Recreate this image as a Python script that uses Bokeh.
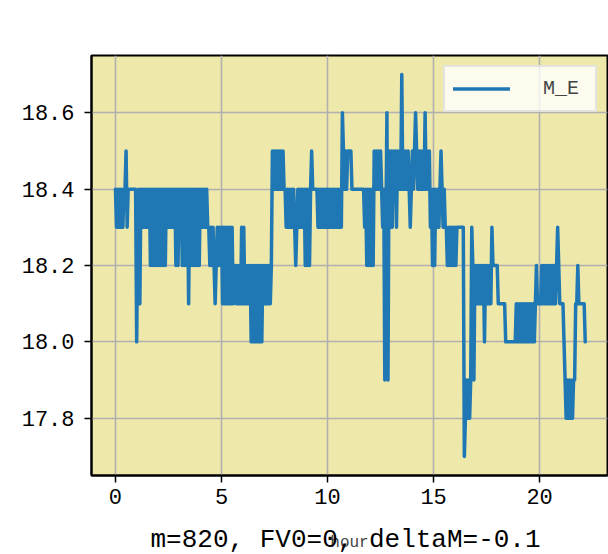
from bokeh.plotting import figure
from bokeh.models import (Range1d, FixedTicker, PrintfTickFormatter, Legend,
                          LegendItem, Title, ColumnDataSource)
from bokeh.embed import file_html
from bokeh.resources import INLINE

# ---- data (M_E readings, sampled every 0.05 hour) ----
step_hours = 0.05
me_part1 = [
    18.4, 18.3, 18.4, 18.3, 18.4, 18.3, 18.4, 18.3, 18.4, 18.4,
    18.5, 18.3, 18.4, 18.4, 18.4, 18.4, 18.4, 18.4, 18.4, 18.4,
    18.0, 18.3, 18.4, 18.1, 18.4, 18.3, 18.4, 18.3, 18.4, 18.3,
    18.4, 18.3, 18.4, 18.2, 18.4, 18.2, 18.4, 18.2, 18.4, 18.2,
    18.4, 18.2, 18.4, 18.2, 18.4, 18.2, 18.4, 18.2, 18.4, 18.3,
    18.4, 18.3, 18.4, 18.3, 18.4, 18.3, 18.4, 18.2, 18.4, 18.2,
    18.4, 18.3, 18.4, 18.2, 18.4, 18.2, 18.4, 18.2, 18.4, 18.1,
    18.4, 18.2, 18.4, 18.2, 18.4, 18.2, 18.4, 18.2, 18.4, 18.2,
    18.4, 18.3, 18.4, 18.3, 18.4, 18.3, 18.4, 18.3, 18.3, 18.2,
    18.3, 18.2, 18.3, 18.2, 18.1, 18.2, 18.3, 18.2, 18.3, 18.2,
]
me_part2 = [
    18.3, 18.1, 18.3, 18.1, 18.3, 18.1, 18.3, 18.1, 18.3, 18.1,
    18.3, 18.1, 18.2, 18.2, 18.1, 18.2, 18.1, 18.2, 18.1, 18.3,
    18.1, 18.3, 18.1, 18.2, 18.1, 18.2, 18.1, 18.2, 18.0, 18.2,
    18.0, 18.2, 18.0, 18.2, 18.0, 18.2, 18.0, 18.2, 18.0, 18.2,
    18.1, 18.2, 18.1, 18.2, 18.1, 18.2, 18.1, 18.2, 18.5, 18.4,
    18.5, 18.4, 18.5, 18.4, 18.5, 18.4, 18.5, 18.4, 18.5, 18.4,
    18.4, 18.3, 18.4, 18.3, 18.4, 18.3, 18.4, 18.3, 18.4, 18.3,
    18.2, 18.3, 18.4, 18.3, 18.4, 18.3, 18.4, 18.3, 18.4, 18.2,
    18.4, 18.2, 18.4, 18.2, 18.4, 18.5, 18.4, 18.4, 18.4, 18.4,
    18.4, 18.3, 18.4, 18.3, 18.4, 18.3, 18.4, 18.3, 18.4, 18.3,
]
me_part3 = [
    18.4, 18.3, 18.4, 18.3, 18.4, 18.3, 18.4, 18.3, 18.4, 18.3,
    18.4, 18.3, 18.4, 18.3, 18.6, 18.5, 18.4, 18.5, 18.4, 18.5,
    18.5, 18.5, 18.5, 18.4, 18.4, 18.4, 18.4, 18.4, 18.4, 18.4,
    18.4, 18.4, 18.4, 18.4, 18.4, 18.3, 18.4, 18.2, 18.4, 18.2,
    18.4, 18.2, 18.4, 18.2, 18.5, 18.4, 18.5, 18.4, 18.5, 18.4,
    18.5, 18.4, 18.3, 18.4, 17.9, 18.3, 18.6, 17.9, 18.5, 18.3,
    18.5, 18.3, 18.5, 18.4, 18.5, 18.3, 18.5, 18.4, 18.5, 18.4,
    18.7, 18.4, 18.5, 18.4, 18.5, 18.4, 18.5, 18.4, 18.3, 18.4,
    18.5, 18.4, 18.5, 18.6, 18.5, 18.4, 18.5, 18.4, 18.5, 18.4,
    18.5, 18.4, 18.6, 18.4, 18.5, 18.4, 18.5, 18.3, 18.4, 18.2,
]
me_part4 = [
    18.4, 18.2, 18.4, 18.3, 18.4, 18.3, 18.4, 18.5, 18.4, 18.3,
    18.4, 18.3, 18.3, 18.2, 18.3, 18.2, 18.3, 18.2, 18.3, 18.2,
    18.3, 18.2, 18.3, 18.3, 18.3, 18.3, 18.3, 18.3, 18.3, 17.7,
    17.8, 17.9, 17.8, 17.9, 17.8, 17.9, 18.3, 18.2, 17.9, 18.2,
    18.1, 18.2, 18.1, 18.2, 18.1, 18.2, 18.1, 18.2, 18.0, 18.2,
    18.1, 18.2, 18.1, 18.2, 18.1, 18.3, 18.2, 18.2, 18.2, 18.2,
    18.2, 18.1, 18.1, 18.1, 18.1, 18.1, 18.1, 18.1, 18.0, 18.0,
    18.0, 18.0, 18.0, 18.0, 18.0, 18.0, 18.0, 18.0, 18.1, 18.0,
    18.1, 18.0, 18.1, 18.0, 18.1, 18.0, 18.1, 18.0, 18.1, 18.0,
    18.1, 18.0, 18.1, 18.0, 18.1, 18.0, 18.1, 18.2, 18.1, 18.1,
]
me_part5 = [
    18.1, 18.1, 18.2, 18.1, 18.2, 18.1, 18.2, 18.1, 18.2, 18.1,
    18.2, 18.1, 18.2, 18.1, 18.2, 18.1, 18.2, 18.3, 18.2, 18.1,
    18.1, 18.1, 18.1, 18.0, 17.9, 17.8, 17.9, 17.8, 17.9, 17.8,
    17.9, 17.8, 17.9, 17.9, 18.1, 18.1, 18.2, 18.1, 18.1, 18.1,
    18.1, 18.1, 18.1, 18.0,
]
me_values = me_part1 + me_part2 + me_part3 + me_part4 + me_part5
hours = [round(i * step_hours, 2) for i in range(len(me_values))]

x_ticks = [0, 5, 10, 15, 20]
y_ticks = [17.8, 18.0, 18.2, 18.4, 18.6]
series_name = "M_E"
x_label = "hour"
caption = "m=820, FV0=0, deltaM=-0.1"

FONT = "Liberation Mono"

p = figure(width=608, height=554, output_backend="svg", toolbar_location=None,
           x_range=Range1d(-1.13, 23.2), y_range=Range1d(17.65, 18.75),
           min_border_left=91, min_border_right=1, min_border_top=55,
           min_border_bottom=79)
p.background_fill_color = "#EEE8AA"
p.border_fill_color = "white"
p.outline_line_color = "black"
p.outline_line_width = 2

src = ColumnDataSource(dict(hour=hours, me=me_values))
r = p.line("hour", "me", source=src, line_color="#1f77b4", line_width=3.5,
           line_join="round", line_cap="round")

p.xaxis.ticker = FixedTicker(ticks=x_ticks)
p.yaxis.ticker = FixedTicker(ticks=y_ticks)
p.yaxis.formatter = PrintfTickFormatter(format="%.1f")
p.axis.minor_tick_line_color = None
p.axis.major_tick_in = 0
p.axis.major_tick_out = 7
p.axis.major_tick_line_width = 1.5
p.axis.major_tick_line_color = "black"
p.axis.axis_line_color = "black"
p.axis.axis_line_width = 2
p.axis.major_label_text_font = FONT
p.axis.major_label_text_font_size = "22px"
p.axis.major_label_text_color = "black"
p.xaxis.major_label_standoff = 6
p.yaxis.major_label_standoff = 10
p.xaxis.axis_label = x_label
p.xaxis.axis_label_text_font = FONT
p.xaxis.axis_label_text_font_size = "16px"
p.xaxis.axis_label_text_font_style = "normal"
p.xaxis.axis_label_standoff = 27

p.grid.grid_line_color = "#b0b0b0"
p.grid.grid_line_width = 1.6

legend = Legend(items=[LegendItem(label=series_name, renderers=[r])],
                location="top_right", margin=10, padding=8,
                glyph_width=57, glyph_height=27, label_standoff=33,
                label_width=44, label_height=27,
                label_text_font=FONT, label_text_font_size="20px",
                border_line_color="#cccccc", border_line_width=2,
                background_fill_color="white", background_fill_alpha=0.8)
p.add_layout(legend)

p.add_layout(Title(text=caption, align="left", offset=59, standoff=-60,
                   vertical_align="top", text_font=FONT,
                   text_font_size="26px", text_font_style="normal",
                   text_color="black"), "below")

open("out.html", "w").write(file_html(p, INLINE))
